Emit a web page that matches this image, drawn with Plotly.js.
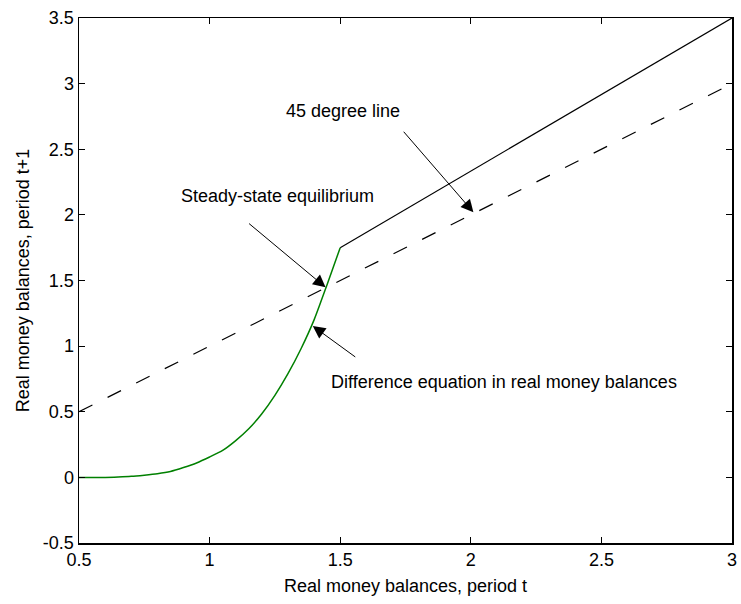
<!DOCTYPE html>
<html>
<head>
<meta charset="utf-8">
<script src="https://cdn.plot.ly/plotly-3.0.1.min.js"></script>
<style>html,body{margin:0;padding:0;background:#fff;}</style>
</head>
<body>
<div id="chart" style="width:741px;height:604px;"></div>
<script>
// 45 degree line (dashed)
const lineX45 = [0.5, 3];
const lineY45 = [0.5, 3];
// Linear part of the difference equation (solid black)
const linX = [1.5, 3];
const linY = [1.75, 3.5];
// Difference equation, curved part (green)
const curveX = [0.5, 0.6, 0.65, 0.7, 0.75, 0.8, 0.85, 0.9, 0.95, 1.0, 1.05, 1.1, 1.15, 1.2, 1.25, 1.3, 1.35, 1.4, 1.45, 1.5];
const curveY = [0, 0, 0.003, 0.008, 0.017, 0.028, 0.045, 0.075, 0.11, 0.155, 0.205, 0.28, 0.37, 0.485, 0.625, 0.79, 0.98, 1.2, 1.47, 1.75];
// Tick labels
const xTickVals = [0.5, 1, 1.5, 2, 2.5, 3];
const xTickText = ['0.5', '1', '1.5', '2', '2.5', '3'];
const yTickVals = [-0.5, 0, 0.5, 1, 1.5, 2, 2.5, 3, 3.5];
const yTickText = ['-0.5', '0', '0.5', '1', '1.5', '2', '2.5', '3', '3.5'];

const font = {family: 'Liberation Sans, Arial, sans-serif', size: 18, color: '#000'};

const traces = [
  {x: lineX45, y: lineY45, mode: 'lines', line: {color: '#000', width: 1.2, dash: '15px,17px'}, hoverinfo: 'skip'},
  {x: linX, y: linY, mode: 'lines', line: {color: '#000', width: 1.2}, hoverinfo: 'skip'},
  {x: curveX, y: curveY, mode: 'lines', line: {color: '#008000', width: 1.5, shape: 'spline', smoothing: 0.6}, hoverinfo: 'skip'}
];

const axisCommon = {
  showgrid: false, zeroline: false, showline: true, mirror: 'ticks',
  linecolor: '#000', linewidth: 1.5, ticks: 'inside', ticklen: 6, tickwidth: 1, tickcolor: '#000',
  tickfont: font, tickmode: 'array'
};

const arrowCommon = {text: '', showarrow: true, arrowhead: 2, arrowsize: 2.5, arrowwidth: 1, arrowcolor: '#000', standoff: 0, xref: 'x', yref: 'y'};

const layout = {
  width: 741, height: 604,
  margin: {l: 79, r: 9, t: 18, b: 61},
  paper_bgcolor: '#fff', plot_bgcolor: '#fff',
  showlegend: false,
  font: font,
  xaxis: Object.assign({}, axisCommon, {range: [0.5, 3], tickvals: xTickVals, ticktext: xTickText,
    title: {text: 'Real money balances, period t', font: font, standoff: 10}}),
  yaxis: Object.assign({}, axisCommon, {range: [-0.5, 3.5], tickvals: yTickVals, ticktext: yTickText,
    title: {text: 'Real money balances, period t+1', font: font, standoff: 8}}),
  annotations: [
    Object.assign({}, arrowCommon, {x: 2.01, y: 2.02, ax: -71, ay: -82}),
    Object.assign({}, arrowCommon, {x: 1.444, y: 1.448, ax: -78, ay: -65}),
    Object.assign({}, arrowCommon, {x: 1.395, y: 1.153, ax: 44, ay: 32}),
    {text: '45 degree line', x: 343, y: 111, showarrow: false, font: font},
    {text: 'Steady-state equilibrium', x: 277, y: 196, showarrow: false, font: font},
    {text: 'Difference equation in real money balances', x: 504, y: 382, showarrow: false, font: font}
  ]
};

// label positions are given in pixels; convert to data coordinates
function px2x(p) { return 0.5 + (p - 79) / (732 - 79) * 2.5; }
function py2y(p) { return 3.5 - (p - 18) / (543 - 18) * 4; }
layout.annotations.slice(3).forEach(a => { a.x = px2x(a.x); a.y = py2y(a.y); a.xref = 'x'; a.yref = 'y'; });

Plotly.newPlot('chart', traces, layout, {displayModeBar: false, staticPlot: true});
</script>
</body>
</html>
